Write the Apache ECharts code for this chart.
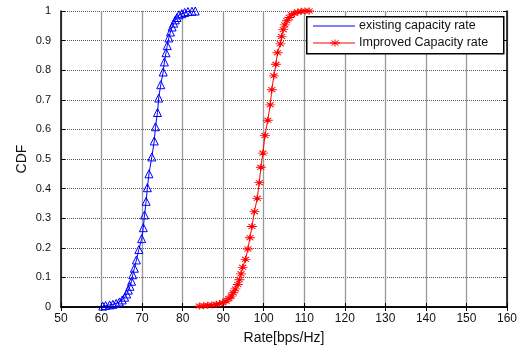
<!DOCTYPE html>
<html>
<head>
<meta charset="utf-8">
<script src="https://cdn.jsdelivr.net/npm/echarts@6/dist/echarts.min.js"></script>
<style>html,body{margin:0;padding:0;background:#fff}#c{width:522px;height:350px}</style>
</head>
<body>
<div id="c"></div>
<script>
// ---- data ----
var xTicks = [50,60,70,80,90,100,110,120,130,140,150,160];
var yTicks = [0,0.1,0.2,0.3,0.4,0.5,0.6,0.7,0.8,0.9,1];
var seriesNames = ['existing capacity rate', 'Improved Capacity rate'];
var existingX = [60.3,61.0,62.0,62.8,63.6,64.4,65.1,65.7,66.2,66.6,67.0,67.4,67.7,68.1,68.6,69.2,69.9,70.3,70.6,71.0,71.3,71.7,72.4,73.0,73.3,73.8,74.1,74.6,75.2,75.5,75.9,76.2,76.6,77.0,77.4,77.8,78.2,78.6,79.1,79.8,80.5,81.3,82.3,83.1];
var existingY = [0.003,0.005,0.007,0.009,0.012,0.017,0.024,0.033,0.044,0.057,0.070,0.087,0.109,0.131,0.159,0.194,0.231,0.268,0.311,0.357,0.403,0.450,0.507,0.561,0.609,0.657,0.706,0.751,0.794,0.828,0.859,0.883,0.909,0.929,0.946,0.959,0.970,0.978,0.987,0.991,0.995,0.998,0.999,1.000];
var improvedX = [84.1,85.2,86.2,87.2,88.3,89.1,89.9,90.7,91.4,92.0,92.5,93.0,93.6,94.0,94.4,94.8,95.5,96.1,96.6,97.1,97.7,98.4,98.9,99.3,99.8,100.3,101.0,101.6,102.0,102.5,103.0,103.4,104.1,104.4,104.8,105.2,105.7,106.3,106.9,107.5,108.4,109.2,110.2,111.2];
var improvedY = [0.003,0.004,0.006,0.007,0.009,0.011,0.014,0.020,0.028,0.037,0.048,0.061,0.076,0.092,0.112,0.134,0.161,0.196,0.234,0.272,0.322,0.367,0.420,0.472,0.520,0.579,0.631,0.683,0.734,0.781,0.820,0.859,0.889,0.914,0.937,0.953,0.967,0.978,0.987,0.992,0.997,0.999,1.000,1.000];

function zip(a, b) { return a.map(function (v, i) { return [v, b[i]]; }); }

var FONT = '"Liberation Sans", Arial, sans-serif';
var starPath = 'path://M0,5L10,5M5,0L5,10M1.5,1.5L8.5,8.5M8.5,1.5L1.5,8.5';

var chart = echarts.init(document.getElementById('c'), null, {renderer: 'canvas'});
var axisCommon = {
  type: 'value',
  axisLine: {show: true, lineStyle: {color: '#000', width: 1.5}},
  axisTick: {show: true, inside: true, length: 4, lineStyle: {color: '#000'}},
};
var option = {
  animation: false,
  backgroundColor: '#fff',
  textStyle: {fontFamily: FONT},
  grid: {left: 61, right: 15, top: 11, bottom: 39, containLabel: false},
  xAxis: [
    Object.assign({}, axisCommon, {
      position: 'bottom', min: xTicks[0], max: xTicks[xTicks.length - 1], interval: 10,
      name: 'Rate[bps/Hz]', nameLocation: 'middle', nameGap: 24, nameMoveOverlap: false,
      nameTextStyle: {fontSize: 14, color: '#111', fontFamily: FONT},
      axisLabel: {fontSize: 12, color: '#111', margin: 6, fontFamily: FONT},
      splitLine: {show: true, lineStyle: {color: '#999', width: 1.3, type: 'solid'}}
    }),
    Object.assign({}, axisCommon, {
      position: 'top', min: xTicks[0], max: xTicks[xTicks.length - 1], interval: 10,
      axisLabel: {show: false}, splitLine: {show: false}
    })
  ],
  yAxis: [
    Object.assign({}, axisCommon, {
      position: 'left', min: yTicks[0], max: yTicks[yTicks.length - 1], interval: 0.1,
      name: 'CDF', nameLocation: 'middle', nameGap: 32, nameRotate: 90, nameMoveOverlap: false,
      nameTextStyle: {fontSize: 14, color: '#111', fontFamily: FONT},
      axisLabel: {fontSize: 11, color: '#111', margin: 10, fontFamily: FONT},
      splitLine: {show: true, lineStyle: {color: '#555', width: 1, type: [1, 1]}}
    }),
    Object.assign({}, axisCommon, {
      position: 'right', min: yTicks[0], max: yTicks[yTicks.length - 1], interval: 0.1,
      axisLabel: {show: false}, splitLine: {show: false}
    })
  ],
  series: [
    {
      name: seriesNames[0], type: 'line', xAxisIndex: 0, yAxisIndex: 0,
      data: zip(existingX, existingY),
      symbol: 'triangle', symbolSize: [8, 8], showAllSymbol: true,
      lineStyle: {color: '#0000ff', width: 1},
      itemStyle: {color: 'rgba(0,0,0,0)', borderColor: '#0000ff', borderWidth: 1},
      z: 3
    },
    {
      name: seriesNames[1], type: 'line', xAxisIndex: 0, yAxisIndex: 0,
      data: zip(improvedX, improvedY),
      symbol: starPath, symbolSize: [10, 7], showAllSymbol: true,
      lineStyle: {color: '#ff0000', width: 1},
      itemStyle: {color: 'rgba(0,0,0,0)', borderColor: '#ff0000', borderWidth: 1},
      z: 3
    }
  ],
  graphic: [
    {type: 'rect', left: 306, top: 16, z: 10, shape: {width: 197, height: 37},
     style: {fill: '#fff', stroke: '#000', lineWidth: 1.5}},
    {type: 'line', z: 11, shape: {x1: 313, y1: 26, x2: 355, y2: 26}, style: {stroke: '#0000ff', lineWidth: 1}},
    {type: 'text', z: 11, left: 359, top: 19, style: {text: seriesNames[0], font: '12.5px ' + FONT, fill: '#111'}},
    {type: 'line', z: 11, shape: {x1: 313, y1: 43, x2: 355, y2: 43}, style: {stroke: '#ff0000', lineWidth: 1}},
    {type: 'line', z: 11, shape: {x1: 330, y1: 43, x2: 340, y2: 43}, style: {stroke: '#ff0000', lineWidth: 1}},
    {type: 'line', z: 11, shape: {x1: 335, y1: 39.5, x2: 335, y2: 46.5}, style: {stroke: '#ff0000', lineWidth: 1}},
    {type: 'line', z: 11, shape: {x1: 331.5, y1: 40.5, x2: 338.5, y2: 45.5}, style: {stroke: '#ff0000', lineWidth: 1}},
    {type: 'line', z: 11, shape: {x1: 338.5, y1: 40.5, x2: 331.5, y2: 45.5}, style: {stroke: '#ff0000', lineWidth: 1}},
    {type: 'text', z: 11, left: 359, top: 36, style: {text: seriesNames[1], font: '12.5px ' + FONT, fill: '#111'}}
  ]
};
chart.setOption(option);
</script>
</body>
</html>
